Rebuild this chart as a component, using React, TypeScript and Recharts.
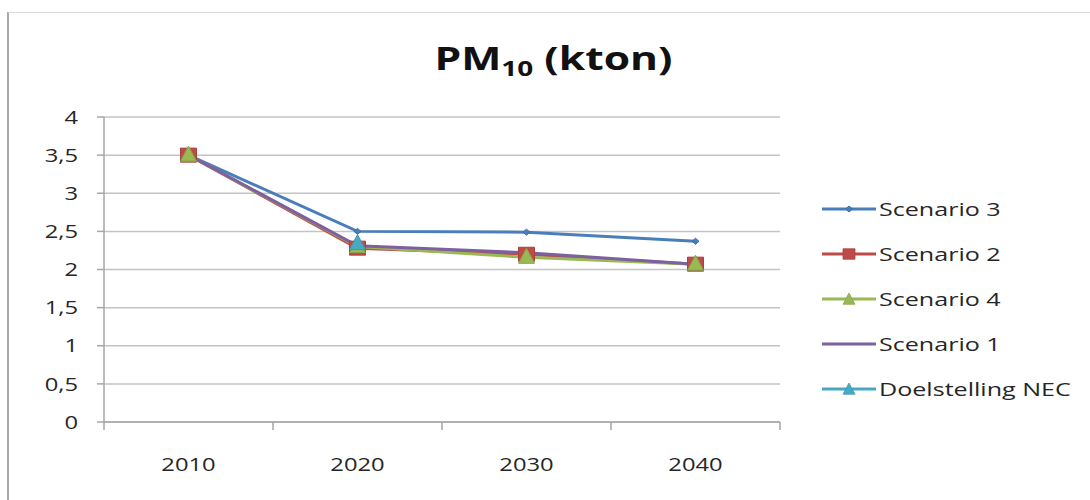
import React from 'react';
import { LineChart, Line, XAxis, YAxis, CartesianGrid, Legend } from 'recharts';

const categories = ['2010', '2020', '2030', '2040'];
const scenario3 = [3.5, 2.5, 2.49, 2.37];
const scenario2 = [3.5, 2.28, 2.2, 2.07];
const scenario4 = [3.5, 2.3, 2.16, 2.07];
const scenario1 = [3.5, 2.31, 2.22, 2.07];
const doelstellingNEC = [null, 2.34, null, null];
const yTicks = [0, 0.5, 1, 1.5, 2, 2.5, 3, 3.5, 4];
const bandTicks = [0, 1, 2, 3, 4];
const labelTicks = [0.5, 1.5, 2.5, 3.5];

const data = categories.map((c, i) => ({
  x: i + 0.5,
  label: c,
  s3: scenario3[i],
  s2: scenario2[i],
  s4: scenario4[i],
  s1: scenario1[i],
  nec: doelstellingNEC[i],
}));

const FONT = '"Open Sans", sans-serif';
const SX = 1.25;
const TEXT = '#262626';

const colors: Record<string, string> = {
  s3: '#4A7EBB',
  s2: '#BE4B48',
  s4: '#98B954',
  s1: '#7D60A0',
  nec: '#46AAC5',
};

type Shape = 'diamond' | 'square' | 'triangle' | 'none';

const markerPath = (shape: Shape, cx: number, cy: number) => {
  if (shape === 'diamond') return `M${cx - 3.5},${cy} L${cx},${cy - 3} L${cx + 3.5},${cy} L${cx},${cy + 3} Z`;
  if (shape === 'square') return `M${cx - 8},${cy - 7} h16 v14 h-16 Z`;
  if (shape === 'triangle') return `M${cx},${cy - 9} L${cx + 8},${cy + 6} L${cx - 8},${cy + 6} Z`;
  return '';
};

const makeDot = (shape: Shape, fill: string, stroke: string) => (props: any) => {
  const { cx, cy, index } = props;
  if (shape === 'none' || cx == null || cy == null || props.value == null) return <g key={`d-${index}`} />;
  return <path key={`d-${index}`} d={markerPath(shape, cx, cy)} fill={fill} stroke={stroke} strokeWidth={1} />;
};

const series = [
  { key: 's3', name: 'Scenario 3', shape: 'diamond' as Shape, stroke: '#3C6DAA' },
  { key: 's2', name: 'Scenario 2', shape: 'square' as Shape, stroke: '#A8423F' },
  { key: 's4', name: 'Scenario 4', shape: 'triangle' as Shape, stroke: '#86A44A' },
  { key: 's1', name: 'Scenario 1', shape: 'none' as Shape, stroke: '#6D5590' },
  { key: 'nec', name: 'Doelstelling NEC', shape: 'triangle' as Shape, stroke: '#3C97AF' },
];

const YTick = (props: any) => {
  const { x, y, payload } = props;
  return (
    <g transform={`translate(${x},${y})`}>
      <text transform={`scale(${SX},1)`} textAnchor="end" dy="0.35em" fontFamily={FONT} fontSize={19} fill={TEXT}>
        {String(payload.value).replace('.', ',')}
      </text>
    </g>
  );
};

const XTick = (props: any) => {
  const { x, y, payload } = props;
  const idx = labelTicks.indexOf(payload.value);
  return (
    <g transform={`translate(${x},${y})`}>
      <text transform={`scale(${SX},1)`} textAnchor="middle" dy="0.35em" fontFamily={FONT} fontSize={19} fill={TEXT}>
        {categories[idx] ?? ''}
      </text>
    </g>
  );
};

const renderLegend = () => {
  return (
    <div style={{ width: 270 }}>
      {series.map((s, i) => {
        const col = colors[s.key];
        return (
          <div key={i} style={{ height: 45, display: 'flex', alignItems: 'center' }}>
            <svg width={58} height={20} style={{ display: 'block' }}>
              <line x1={2} y1={10} x2={56} y2={10} stroke={col} strokeWidth={3} />
              {s.shape !== 'none' && (
                <path
                  d={markerPath(s.shape, 29, s.shape === 'triangle' ? 11 : 10)}
                  fill={col}
                  stroke={s.stroke}
                  strokeWidth={1}
                  transform={s.shape === 'diamond' ? '' : 'translate(29,10) scale(0.75) translate(-29,-10)'}
                />
              )}
            </svg>
            <span
              style={{
                display: 'inline-block',
                fontFamily: FONT,
                fontSize: 19,
                color: TEXT,
                transform: `scaleX(${SX + 0.07})`,
                transformOrigin: 'left center',
                whiteSpace: 'nowrap',
                marginLeft: 1,
              }}
            >
              {s.name}
            </span>
          </div>
        );
      })}
    </div>
  );
};

export default function App() {
  return (
    <div style={{ position: 'absolute', left: 0, top: 0, width: 1090, height: 500, overflow: 'hidden', background: '#fff' }}>
      <div
        style={{
          position: 'absolute',
          left: 7,
          top: 12,
          width: 1083,
          height: 488,
          boxSizing: 'border-box',
          borderLeft: '2px solid #a8a8a8',
          borderTop: '1px solid #dadada',
        }}
      />
      <div
        style={{
          position: 'absolute',
          left: 0,
          width: 1106,
          top: 36,
          textAlign: 'center',
          fontFamily: FONT,
          fontWeight: 700,
          fontSize: 32,
          color: '#111',
          whiteSpace: 'nowrap',
        }}
      >
        <span style={{ display: 'inline-block', transform: 'scaleX(1.33)' }}>
          PM<sub style={{ fontSize: 21, verticalAlign: -6 }}>10</sub> (kton)
        </span>
      </div>
      <div style={{ position: 'absolute', left: 0, top: 0 }}>
        <LineChart width={1090} height={500} data={data} margin={{ top: 117, right: 40, left: 44, bottom: 0 }}>
          <CartesianGrid vertical={false} stroke="#c4c4c4" strokeWidth={1.5} horizontalValues={yTicks} />
          <XAxis
            xAxisId="band"
            dataKey="x"
            type="number"
            domain={[0, 4]}
            ticks={bandTicks}
            tickFormatter={() => ''}
            height={10}
            tickSize={8}
            stroke="#a6a6a6"
            strokeWidth={1.5}
            allowDataOverflow
          />
          <XAxis
            xAxisId="lab"
            dataKey="x"
            type="number"
            domain={[0, 4]}
            ticks={labelTicks}
            tick={<XTick />}
            axisLine={false}
            tickLine={false}
            tickSize={0}
            tickMargin={32}
            height={68}
            interval={0}
            allowDataOverflow
          />
          <YAxis
            type="number"
            domain={[0, 4]}
            ticks={yTicks}
            tick={<YTick />}
            width={60}
            tickSize={7}
            tickMargin={19}
            stroke="#a6a6a6"
            strokeWidth={1.5}
            interval={0}
          />
          <Legend
            layout="vertical"
            verticalAlign="top"
            align="right"
            content={renderLegend}
            wrapperStyle={{ position: 'absolute', left: 820, top: 186, width: 270 }}
          />
          {series.map((s) => (
            <Line
              key={s.key}
              xAxisId="band"
              dataKey={s.key}
              name={s.name}
              stroke={colors[s.key]}
              strokeWidth={3}
              dot={makeDot(s.shape, colors[s.key], s.stroke)}
              activeDot={false}
              isAnimationActive={false}
              connectNulls={false}
              type="linear"
            />
          ))}
        </LineChart>
      </div>
    </div>
  );
}
